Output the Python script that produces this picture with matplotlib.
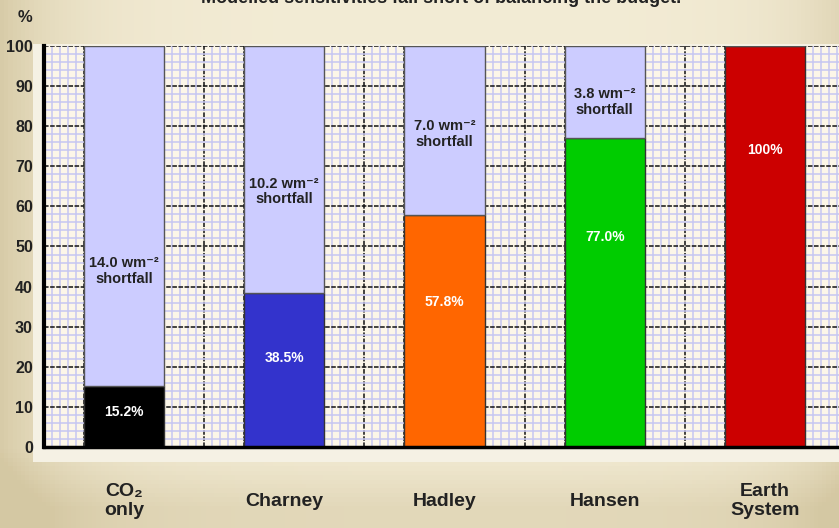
import numpy as np
import matplotlib
matplotlib.use("Agg")
import matplotlib.pyplot as plt
from matplotlib.patches import Rectangle

plt.rcParams['font.family'] = ['Liberation Sans', 'DejaVu Sans']

# data
categories = ["CO\u2082\nonly", "Charney", "Hadley", "Hansen", "Earth\nSystem"]
percent = [15.2, 38.5, 57.8, 77.0, 100.0]
shortfall = [14.0, 10.2, 7.0, 3.8, None]
colors = ["#000000", "#3333cc", "#ff6600", "#00cc00", "#cc0000"]

# where the labels sit inside the bars (layout only)
pct_label_y = [8.7, 22.3, 36.2, 52.4, 74.0]
short_label_y = [43.9, 63.7, 78.0, 86.0, None]

W, H = 839, 528
fig = plt.figure(figsize=(W / 100, H / 100), dpi=100)

# beige gradient background
bg = fig.add_axes([0, 0, 1, 1], zorder=-10)
xx = np.linspace(0, W, 200)
yy = np.linspace(0, H, 120)
X, Y = np.meshgrid(xx, yy)
w = 0.9 * np.exp(-X / 70) + 0.6 * np.exp(-(W - X) / 60) + 0.55 * np.clip((Y - 450) / 60, 0, 1)
w = np.clip(w, 0, 1)
light = np.array([0.953, 0.925, 0.835])
dark = np.array([0.835, 0.785, 0.640])
img = light[None, None, :] * (1 - w[..., None]) + dark[None, None, :] * w[..., None]
bg.imshow(img, extent=[0, W, H, 0], aspect='auto')
bg.set_xlim(0, W)
bg.set_ylim(H, 0)
bg.axis('off')
# lighter chart panel behind the plot
bg.add_patch(Rectangle((33, 44), W - 33, 462 - 44, color="#f5f1e4", lw=0))

# title (cut off at the top in the original)
fig.text(441 / W, 1 - 3 / H, "Modelled sensitivities fall short of balancing the budget.",
         ha='center', va='baseline', fontsize=13, fontweight='bold', color="#222222")

ax = fig.add_axes([44 / W, (H - 447) / H, (845 - 44) / W, 401 / H])
ax.set_facecolor("#fcf6e8")
x = np.arange(len(categories))
ax.set_xlim(-0.5, 4.5)
ax.set_ylim(0, 100)

# graph paper grid
ax.set_xticks(np.arange(-0.5, 4.51, 0.25))
ax.set_xticks(np.arange(-0.5, 4.51, 0.05), minor=True)
ax.set_yticks(np.arange(0, 101, 10))
ax.set_yticks(np.arange(0, 101, 2), minor=True)
ax.grid(which='minor', color="#c6c6f2", lw=1.1)
ax.grid(which='major', color="#111111", lw=1.1, ls=(0, (3, 1)))
ax.set_axisbelow(True)
ax.tick_params(which='both', length=0)
ax.set_xticklabels([])
ax.set_yticks(np.arange(0, 101, 10), [str(v) for v in range(0, 101, 10)])
ax.tick_params(axis='y', labelsize=11.5, pad=8, labelcolor="#222222")
for t in ax.get_yticklabels():
    t.set_fontweight('bold')

for s in ['top', 'right']:
    ax.spines[s].set_visible(False)
ax.spines['left'].set_linewidth(3)
ax.spines['bottom'].set_linewidth(2.5)
ax.spines['left'].set_zorder(5)
ax.spines['bottom'].set_zorder(5)

# bars: coloured share plus lavender shortfall up to 100 %
gap = [100 - p for p in percent]
ax.bar(x, percent, width=0.5, color=colors, edgecolor="#333333", lw=1, zorder=3)
ax.bar(x, gap, bottom=percent, width=0.5, color="#ccccff", edgecolor="#555555", lw=1, zorder=3)

for i in range(len(categories)):
    ax.text(x[i], pct_label_y[i], f"{percent[i]:.1f}%" if percent[i] < 100 else "100%",
            ha='center', va='center', color="white", fontsize=10, fontweight='bold', zorder=4)
    if shortfall[i] is not None:
        ax.text(x[i], short_label_y[i], f"{shortfall[i]:.1f} wm\u207b\u00b2\nshortfall",
                ha='center', va='center', color="#222222", fontsize=10.5, fontweight='bold',
                linespacing=1.15, zorder=4)

# category labels under the axis
for i, lab in enumerate(categories):
    ax.text(x[i], -13.5, lab, ha='center', va='center', fontsize=14, fontweight='bold',
            color="#222222", linespacing=1.1, clip_on=False)

ax.text(-0.57, 107, "%", ha='right', va='center',
        fontsize=12, fontweight='bold', color="#222222", clip_on=False)

fig.savefig("out.png", dpi=100)
